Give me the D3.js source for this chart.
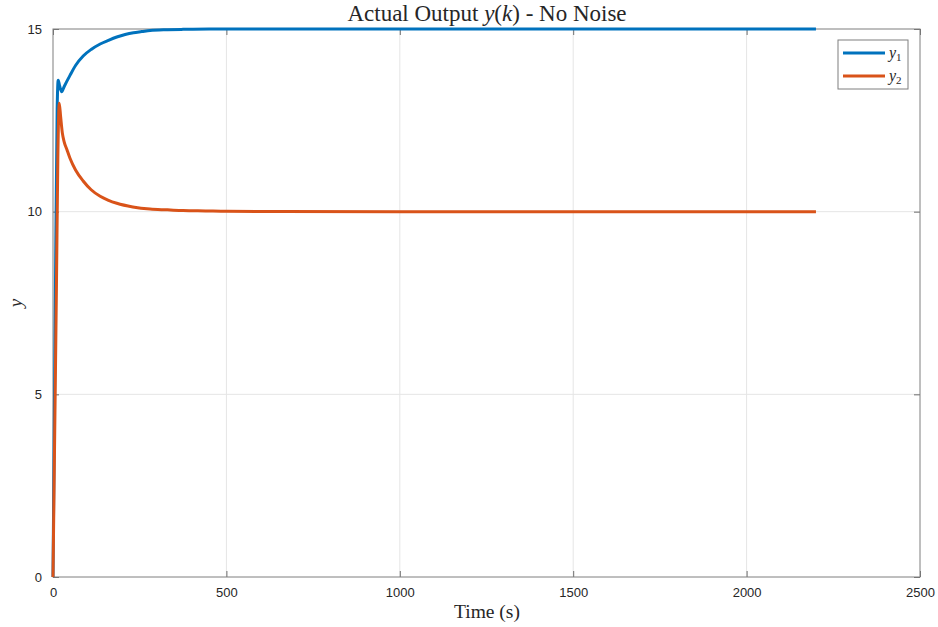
<!DOCTYPE html>
<html lang="en">
<head>
    <meta charset="UTF-8">
    <title>Actual Output y(k) - No Noise</title>
    <script src="https://d3js.org/d3.v7.min.js"></script>
    <style>
        body { margin: 0; background: #fff; }
        .tick text { font-family: "Liberation Sans", Arial, sans-serif; font-size: 13px; fill: #262626; }
        .grid line { stroke: #e5e5e5; stroke-width: 1px; }
        .serif { font-family: "Liberation Serif", "Times New Roman", serif; fill: #262626; }
    </style>
</head>
<body>
    <svg width="938" height="627"></svg>
    <script>
        // values
        var k1 = [0, 4, 8, 12, 15, 19, 25, 32, 49, 65, 87, 110, 136, 160, 184, 208, 232, 256, 280, 330, 375, 450, 520, 1000, 2200];
        var y1 = [0, 4.5, 9, 12.8, 13.6, 13.45, 13.28, 13.42, 13.73, 14.0, 14.26, 14.44, 14.59, 14.69, 14.78, 14.85, 14.90, 14.93, 14.96, 14.98, 14.99, 15.0, 15.0, 15.0, 15.0];
        var k2 = [0, 5, 10, 14, 18, 22, 27, 32, 40, 49, 65, 87, 110, 136, 160, 184, 230, 280, 330, 375, 440, 501, 1000, 2200];
        var y2 = [0, 4, 8, 11.5, 12.97, 12.6, 12.15, 11.92, 11.7, 11.46, 11.14, 10.84, 10.6, 10.42, 10.31, 10.23, 10.13, 10.07, 10.05, 10.03, 10.02, 10.01, 10.0, 10.0];
        var xTicks = [0, 500, 1000, 1500, 2000, 2500];
        var yTicks = [0, 5, 10, 15];
        var seriesNames = ["y1", "y2"];
        var colors = ["#0072BD", "#D95319"];

        var svg = d3.select("svg");
        var mLeft = 53, mRight = 920, mTop = 29, mBottom = 577;

        var x = d3.scaleLinear().domain([0, 2500]).range([mLeft, mRight]);
        var y = d3.scaleLinear().domain([0, 15]).range([mBottom, mTop]);

        // grid
        var grid = svg.append("g").attr("class", "grid");
        grid.selectAll("line.gx").data(xTicks.slice(1, -1)).enter().append("line")
            .attr("x1", function(d) { return x(d); }).attr("x2", function(d) { return x(d); })
            .attr("y1", mTop).attr("y2", mBottom);
        grid.selectAll("line.gy").data(yTicks.slice(1, -1)).enter().append("line")
            .attr("x1", mLeft).attr("x2", mRight)
            .attr("y1", function(d) { return y(d); }).attr("y2", function(d) { return y(d); });

        // axes with inward ticks
        svg.append("g").attr("transform", "translate(0," + mBottom + ")")
            .call(d3.axisBottom(x).tickValues(xTicks).tickFormat(d3.format("d"))
                .tickSizeInner(-6).tickSizeOuter(0).tickPadding(11));
        svg.append("g").attr("transform", "translate(" + mLeft + ",0)")
            .call(d3.axisLeft(y).tickValues(yTicks).tickFormat(d3.format("d"))
                .tickSizeInner(-6).tickSizeOuter(0).tickPadding(11));
        svg.append("g").attr("transform", "translate(0," + mTop + ")")
            .call(d3.axisTop(x).tickValues(xTicks).tickSizeInner(-6).tickSizeOuter(0).tickFormat(""));
        svg.append("g").attr("transform", "translate(" + mRight + ",0)")
            .call(d3.axisRight(y).tickValues(yTicks).tickSizeInner(-6).tickSizeOuter(0).tickFormat(""));
        svg.selectAll(".domain").remove();
        svg.selectAll(".tick line").attr("stroke", "#6e6e6e");

        svg.append("rect").attr("x", mLeft).attr("y", mTop)
            .attr("width", mRight - mLeft).attr("height", mBottom - mTop)
            .attr("fill", "none").attr("stroke", "#7f7f7f").attr("stroke-width", 1);

        // lines
        var line = d3.line().x(function(d) { return x(d[0]); }).y(function(d) { return y(d[1]); })
            .curve(d3.curveMonotoneX);
        var data = [k1.map(function(k, i) { return [k, y1[i]]; }), k2.map(function(k, i) { return [k, y2[i]]; })];
        svg.selectAll("path.series").data(data).enter().append("path")
            .attr("class", "series")
            .attr("d", line)
            .attr("fill", "none")
            .attr("stroke", function(d, i) { return colors[i]; })
            .attr("stroke-width", 3)
            .attr("stroke-linejoin", "round");

        // title and labels
        var title = svg.append("text").attr("class", "serif").attr("x", 487).attr("y", 21)
            .attr("text-anchor", "middle").attr("font-size", 23);
        title.append("tspan").text("Actual Output ");
        title.append("tspan").attr("font-style", "italic").text("y");
        title.append("tspan").text("(");
        title.append("tspan").attr("font-style", "italic").text("k");
        title.append("tspan").text(") - No Noise");

        svg.append("text").attr("class", "serif").attr("x", 487).attr("y", 618)
            .attr("text-anchor", "middle").attr("font-size", 19.5).text("Time (s)");

        svg.append("text").attr("class", "serif")
            .attr("transform", "translate(22,303) rotate(-90)")
            .attr("text-anchor", "middle").attr("font-size", 19)
            .attr("font-style", "italic").text("y");

        // legend
        var lg = svg.append("g");
        lg.append("rect").attr("x", 838).attr("y", 40).attr("width", 70).attr("height", 49)
            .attr("fill", "#fff").attr("stroke", "#7f7f7f").attr("stroke-width", 1);
        seriesNames.forEach(function(name, i) {
            var ly = 53 + i * 23;
            lg.append("line").attr("x1", 843).attr("x2", 885).attr("y1", ly).attr("y2", ly)
                .attr("stroke", colors[i]).attr("stroke-width", 3);
            var t = lg.append("text").attr("class", "serif").attr("x", 889).attr("y", ly + 5)
                .attr("font-size", 16);
            t.append("tspan").attr("font-style", "italic").text(name.charAt(0));
            t.append("tspan").attr("font-size", 11).attr("dy", 3).text(name.slice(1));
        });
    </script>
</body>
</html>
